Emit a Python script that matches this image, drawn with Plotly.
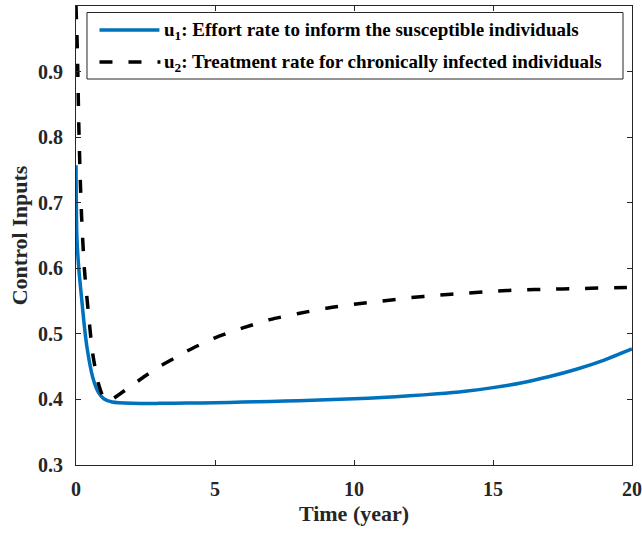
import plotly.graph_objects as go

# Time (years)
t_u1 = [0, 0.03, 0.1, 0.2, 0.3, 0.4, 0.6, 0.8, 1.0, 1.3, 2, 3, 4, 5, 6, 7, 8, 9, 10,
        11, 12, 13, 14, 15, 16, 17, 18, 19, 20]
u1 = [0.757, 0.65, 0.60, 0.555, 0.512, 0.478, 0.434, 0.411, 0.401, 0.396, 0.394, 0.394,
      0.3945, 0.395, 0.396, 0.397, 0.398, 0.3995, 0.401, 0.403, 0.4055, 0.4085, 0.4125,
      0.418, 0.425, 0.4345, 0.446, 0.460, 0.477]

t_u2 = [0, 0.05, 0.1, 0.15, 0.2, 0.3, 0.45, 0.6, 0.8, 1.0, 1.2, 1.5, 2.0, 2.5, 3, 3.5, 4,
        5, 6, 7, 8, 9, 10, 11, 12, 13, 14, 15, 16, 17, 18, 19, 20]
u2 = [1.0, 0.93, 0.82, 0.74, 0.68, 0.60, 0.53, 0.47, 0.425, 0.402, 0.398, 0.406, 0.421,
      0.436, 0.450, 0.462, 0.474, 0.494, 0.509, 0.522, 0.531, 0.539, 0.545, 0.550, 0.555,
      0.559, 0.562, 0.565, 0.567, 0.568, 0.569, 0.570, 0.571]

x_ticks = [0, 5, 10, 15, 20]
y_ticks = [0.3, 0.4, 0.5, 0.6, 0.7, 0.8, 0.9, 1.0]
y_tick_labels = ["0.3", "0.4", "0.5", "0.6", "0.7", "0.8", "0.9", "1"]

name_u1 = "<b>u<sub>1</sub>: Effort rate to inform the susceptible individuals</b>"
name_u2 = "<b>u<sub>2</sub>: Treatment rate for chronically infected individuals</b>"

FONT = "Liberation Serif, Times New Roman, serif"
BLUE = "#0072BD"
DASH = "13px,16px"

# plot area geometry (pixels)
W, H = 642, 533
L, R, T, B = 75.5, 10, 6, 68
PW, PH = W - L - R, H - T - B


def px(x):
    return (x - L) / PW


def py(y):
    return (H - B - y) / PH


fig = go.Figure()
fig.add_trace(go.Scatter(x=t_u1, y=u1, mode="lines", name=name_u1, showlegend=False,
                         line=dict(color=BLUE, width=3.5, shape="spline", smoothing=0.6)))
fig.add_trace(go.Scatter(x=t_u2, y=u2, mode="lines", name=name_u2, showlegend=False,
                         line=dict(color="black", width=3.5, dash=DASH,
                                   shape="spline", smoothing=0.6)))

axis_common = dict(showline=True, mirror="ticks", linecolor="#262626", linewidth=1,
                   ticks="inside", ticklen=5, tickcolor="#262626", showgrid=False,
                   zeroline=False, automargin=False,
                   tickfont=dict(family=FONT, size=20, color="#262626", weight="bold"))

# legend box drawn as shapes + text annotations
shapes = [
    dict(type="rect", xref="paper", yref="paper", x0=px(86.5), x1=px(623),
         y0=py(79), y1=py(12.5), line=dict(color="#262626", width=1),
         fillcolor="white", layer="above"),
    dict(type="line", xref="paper", yref="paper", x0=px(99), x1=px(159),
         y0=py(30), y1=py(30), line=dict(color=BLUE, width=3.5), layer="above"),
    dict(type="line", xref="paper", yref="paper", x0=px(99), x1=px(160),
         y0=py(62), y1=py(62), line=dict(color="black", width=3.5, dash=DASH),
         layer="above"),
]
annotations = [
    dict(text=name_u1, xref="paper", yref="paper", x=px(162), y=py(31),
         xanchor="left", yanchor="middle", showarrow=False,
         font=dict(family=FONT, size=19, color="black")),
    dict(text=name_u2, xref="paper", yref="paper", x=px(162), y=py(63),
         xanchor="left", yanchor="middle", showarrow=False,
         font=dict(family=FONT, size=19, color="black")),
]

fig.update_layout(
    width=W, height=H,
    margin=dict(l=L, r=R, t=T, b=B),
    plot_bgcolor="white", paper_bgcolor="white",
    xaxis=dict(range=[0, 20], tickvals=x_ticks, ticklabelstandoff=6,
               title=dict(text="Time (year)", standoff=6,
                          font=dict(family=FONT, size=22, color="#262626", weight="bold")),
               **axis_common),
    yaxis=dict(range=[0.3, 1.0], tickvals=y_ticks, ticktext=y_tick_labels,
               ticklabelstandoff=8,
               title=dict(text="Control Inputs", standoff=4,
                          font=dict(family=FONT, size=22, color="#262626", weight="bold")),
               **axis_common),
    shapes=shapes,
    annotations=annotations,
    showlegend=False,
)

fig.write_html("out.html", config={"displayModeBar": False},
               post_script="document.body.style.margin='0';document.body.style.padding='0';")
